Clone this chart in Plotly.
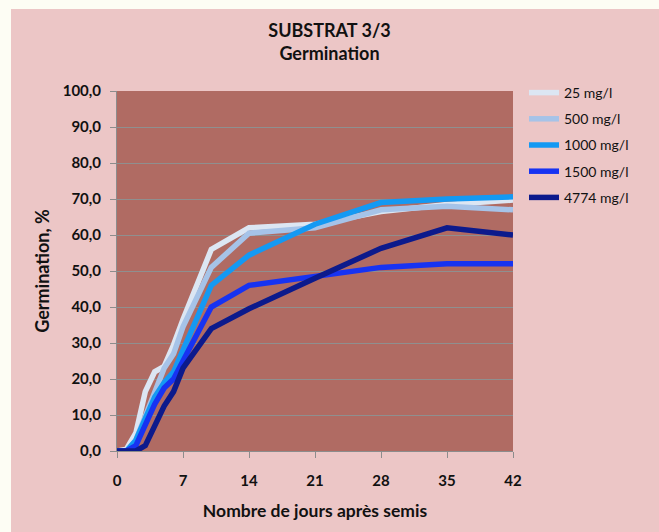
import plotly.graph_objects as go

days = [0, 1, 2, 3, 4, 5, 6, 7, 10, 14, 21, 28, 35, 42]
s25 = [0, 0.5, 5, 16.5, 22, 23.5, 29.5, 36.5, 56, 62, 63, 66.5, 68.5, 69.7]
s500 = [0, 0, 3, 10, 17, 23, 27, 34.5, 51, 60.5, 62, 67, 68, 67]
s1000 = [0, 0, 3, 9, 15, 19, 22, 28, 46, 54.4, 63, 69, 70, 70.6]
s1500 = [0, 0, 1.5, 7, 13, 17.5, 20, 25, 40, 46, 48.5, 51, 52, 52]
s4774 = [0, 0, 0, 1.5, 7, 12.5, 16.5, 23, 34, 39.5, 48, 56.3, 62, 60]

names = ["25 mg/l", "500 mg/l", "1000 mg/l", "1500 mg/l", "4774 mg/l"]
series = [s25, s500, s1000, s1500, s4774]
colors = ["#dce6f3", "#a6c3e8", "#1499f3", "#1733f2", "#0c1a8c"]
xticks = [0, 7, 14, 21, 28, 35, 42]
yticks = [0, 10, 20, 30, 40, 50, 60, 70, 80, 90, 100]

FONT = "Lato, Carlito, Calibri, sans-serif"

fig = go.Figure()
for i, (n, s, c) in enumerate(zip(names, series, colors)):
    fig.add_trace(go.Scatter(x=days, y=s, mode="lines", name=n,
                             legendgroup=str(i),
                             line=dict(color=c, width=5.5)))

L, R, T, B = 117, 146, 91, 81
W, H = 659, 532
pw, ph = W - L - R, H - T - B

fig.update_layout(
    width=W, height=H,
    margin=dict(l=L, r=R, t=T, b=B),
    paper_bgcolor="#fdfdf4",
    plot_bgcolor="#b06b63",
    separators=",.",
    title=dict(text="SUBSTRAT 3/3<br>Germination", x=0.5, xanchor="center",
               y=1 - 37 / H, yanchor="middle",
               font=dict(family=FONT, size=18, color="#111", weight="bold")),
    showlegend=True,
    legend=dict(x=(524 - L) / pw, xanchor="left", y=(451 - 77) / ph, yanchor="top",
                bgcolor="rgba(0,0,0,0)", font=dict(family=FONT, size=14, color="#111"),
                tracegroupgap=5, itemwidth=30),
    shapes=[
        dict(type="rect", xref="paper", yref="paper", layer="below",
             x0=(11 - L) / pw, x1=1.6, y0=-0.5, y1=(451 - 9) / ph,
             fillcolor="#ecc6c6", line=dict(width=0)),
        dict(type="rect", xref="paper", yref="paper", layer="below",
             x0=0, x1=1, y0=0, y1=1, fillcolor="#b06b63", line=dict(width=0)),
    ],
)
fig.update_xaxes(range=[0, 42], tickvals=xticks, ticks="outside", ticklen=6,
                 tickcolor="#8c8c8c", showline=True, linecolor="#8c8c8c",
                 showgrid=False, zeroline=False, ticklabelstandoff=10,
                 tickfont=dict(family=FONT, size=15, color="#111", weight="bold"),
                 title=dict(text="Nombre de jours après semis", standoff=16,
                            font=dict(family=FONT, size=17.5, color="#111", weight="bold")))
fig.update_yaxes(range=[0, 100], tickvals=yticks, tickformat=".1f", ticks="outside",
                 ticklen=6, tickcolor="#8c8c8c", showline=True, linecolor="#8c8c8c",
                 showgrid=True, gridcolor="#8f8f8f", gridwidth=1, zeroline=False,
                 ticklabelstandoff=6,
                 tickfont=dict(family=FONT, size=15, color="#111", weight="bold"),
                 title=dict(text="Germination, %", standoff=8,
                            font=dict(family=FONT, size=18, color="#111", weight="bold")))

fig.write_html("out.html")
